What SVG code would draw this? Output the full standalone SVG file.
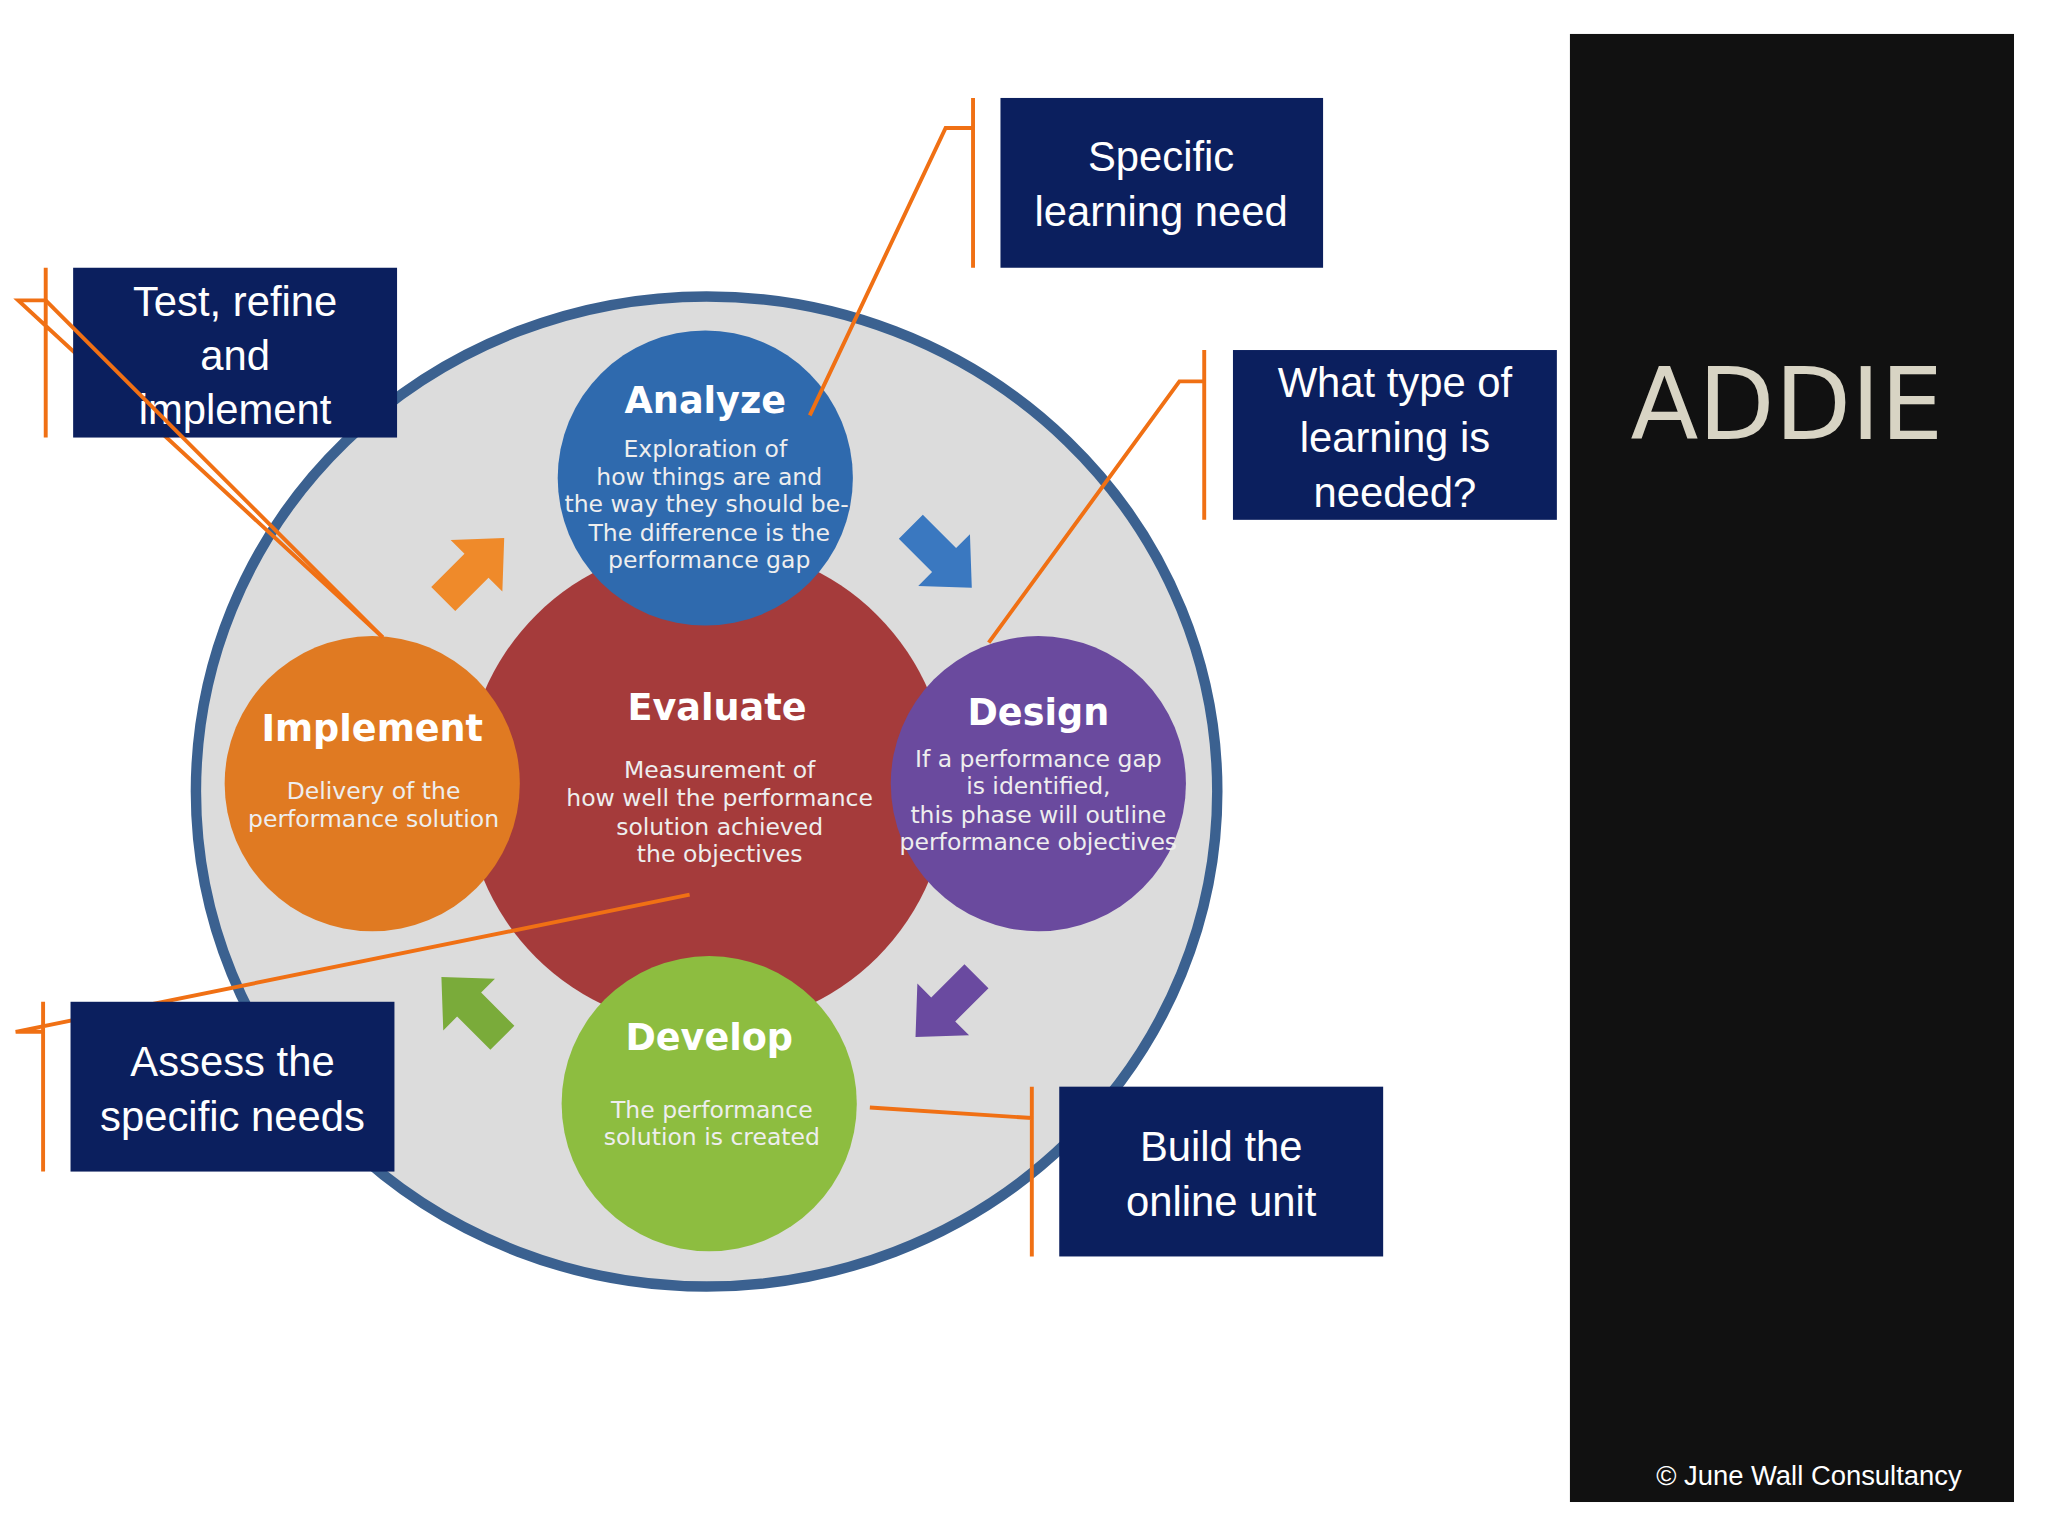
<svg xmlns="http://www.w3.org/2000/svg" width="2048" height="1536" viewBox="0 0 2048 1536">
<style>
.t{font-family:"DejaVu Sans",Verdana,sans-serif;fill:#fff;text-anchor:middle}
.h{font-weight:bold;font-size:28px}
.s{font-size:18px;fill:#eee}
.c{font-family:"Liberation Sans",Arial,sans-serif;fill:#fff;font-size:32px;text-anchor:middle}
.box{fill:#0b1f5e}
.ln{stroke:#f07014;stroke-width:3;fill:none}
</style>
<defs>
<path id="ar" d="M-32,-13 L4,-13 L4,-28 L34,0 L4,28 L4,13 L-32,13 Z"/>
</defs>
<rect width="2048" height="1536" fill="#fff"/>
<g transform="scale(1.3061)">
<g id="panel"><rect x="1202" y="26" width="340" height="1124" fill="#111"/>
<text x="1368" y="336" font-family="'DejaVu Sans',Verdana,sans-serif" font-size="76" fill="#d8d4c4" text-anchor="middle">ADDIE</text>
<text x="1385" y="1137" font-family="'Liberation Sans',Arial,sans-serif" font-size="21" fill="#fff" text-anchor="middle">© June Wall Consultancy</text></g>
<g id="ring"><ellipse cx="541" cy="606" rx="391" ry="379" fill="#dcdcdc" stroke="#3b6190" stroke-width="8"/></g>
<g id="arrows">
<use href="#ar" transform="translate(362,436) rotate(-45)" fill="#ef8a2a"/>
<use href="#ar" transform="translate(720,426) rotate(45)" fill="#3a78c0"/>
<use href="#ar" transform="translate(725,770) rotate(135)" fill="#6a4aa0"/>
<use href="#ar" transform="translate(362,772) rotate(-135)" fill="#7aab3a"/>
</g>
<g id="evaluate"><circle cx="541" cy="602" r="185" fill="#a53b3b"/>
<text class="t h" x="549" y="551">Evaluate</text>
<text class="t s"><tspan x="551" y="596">Measurement of</tspan><tspan x="551" y="617">how well the performance</tspan><tspan x="551" y="639">solution achieved</tspan><tspan x="551" y="660">the objectives</tspan></text></g>
<g id="analyze"><circle cx="540" cy="366" r="113" fill="#2f6aae"/>
<text class="t h" x="540" y="316">Analyze</text>
<text class="t s"><tspan x="540" y="350">Exploration of</tspan><tspan x="543" y="371">how things are and</tspan><tspan x="541" y="392">the way they should be-</tspan><tspan x="543" y="414">The difference is the</tspan><tspan x="543" y="435">performance gap</tspan></text></g>
<g id="design"><circle cx="795" cy="600" r="113" fill="#6a4a9e"/>
<text class="t h" x="795" y="555">Design</text>
<text class="t s"><tspan x="795" y="587">If a performance gap</tspan><tspan x="795" y="608">is identified,</tspan><tspan x="795" y="630">this phase will outline</tspan><tspan x="795" y="651">performance objectives</tspan></text></g>
<g id="develop"><circle cx="543" cy="845" r="113" fill="#8dbd40"/>
<text class="t h" x="543" y="804">Develop</text>
<text class="t s"><tspan x="545" y="856">The performance</tspan><tspan x="545" y="877">solution is created</tspan></text></g>
<g id="implement"><circle cx="285" cy="600" r="113" fill="#e07a22"/>
<text class="t h" x="285" y="567">Implement</text>
<text class="t s"><tspan x="286" y="612">Delivery of the</tspan><tspan x="286" y="633">performance solution</tspan></text></g>
<g id="connectors">
<path class="ln" d="M745,75 V205 M745,98 H724 L620,318"/>
<path class="ln" d="M922,268 V398 M922,292 H903 L757,492"/>
<path class="ln" d="M35,205 V335 M35,230 H14 L293,488"/>
<path class="ln" d="M33,767 V897 M33,790 H12 L528,685"/>
<path class="ln" d="M790,832 V962 M790,856 L666,848"/>
</g>
<g id="c1"><rect class="box" x="766" y="75" width="247" height="130"/><text class="c"><tspan x="889" y="131">Specific</tspan><tspan x="889" y="173">learning need</tspan></text></g>
<g id="c2"><rect class="box" x="944" y="268" width="248" height="130"/><text class="c"><tspan x="1068" y="304">What type of</tspan><tspan x="1068" y="346">learning is</tspan><tspan x="1068" y="388">needed?</tspan></text></g>
<g id="c3"><rect class="box" x="56" y="205" width="248" height="130"/><text class="c"><tspan x="180" y="242">Test, refine</tspan><tspan x="180" y="283">and</tspan><tspan x="180" y="325">implement</tspan></text></g>
<path class="ln" d="M35,230 L293,488" opacity="1"/>
<g id="c4"><rect class="box" x="54" y="767" width="248" height="130"/><text class="c"><tspan x="178" y="824">Assess the</tspan><tspan x="178" y="866">specific needs</tspan></text></g>
<g id="c5"><rect class="box" x="811" y="832" width="248" height="130"/><text class="c"><tspan x="935" y="889">Build the</tspan><tspan x="935" y="931">online unit</tspan></text></g>
</g>
</svg>
